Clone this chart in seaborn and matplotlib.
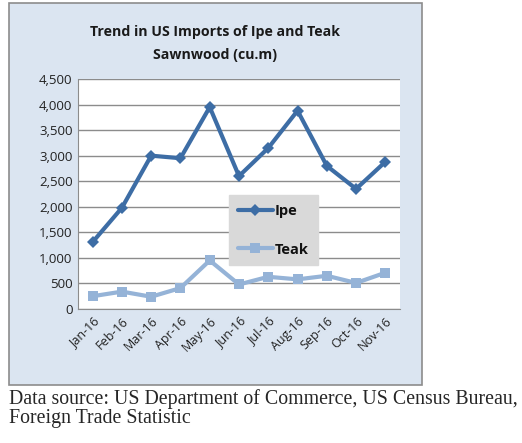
import pandas as pd
import matplotlib.pyplot as plt
import seaborn as sns
from matplotlib.patches import Rectangle

# donnees
months = ["Jan-16", "Feb-16", "Mar-16", "Apr-16", "May-16", "Jun-16",
          "Jul-16", "Aug-16", "Sep-16", "Oct-16", "Nov-16"]
ipe = [1310, 1980, 3000, 2950, 3950, 2600, 3150, 3880, 2800, 2350, 2880]
teak = [250, 340, 240, 410, 950, 480, 630, 580, 650, 510, 710]
yticks = [0, 500, 1000, 1500, 2000, 2500, 3000, 3500, 4000, 4500]

df = pd.DataFrame({"month": months * 2,
                   "value": ipe + teak,
                   "series": ["Ipe"] * len(ipe) + ["Teak"] * len(teak)})

sns.set_style("white")
plt.rcParams["font.family"] = ["Open Sans", "DejaVu Sans"]

fig = plt.figure(figsize=(5.22, 4.43), dpi=100)
fig.patch.set_facecolor("white")

# cadre du graphique (fond bleu clair)
fig.patches.append(Rectangle((9 / 522, 1 - 385 / 443), 413 / 522, 382 / 443,
                             transform=fig.transFigure, facecolor="#dbe5f1",
                             edgecolor="#8c8c8c", linewidth=1.2, zorder=-5))

ax = fig.add_axes([78 / 522, 1 - 309 / 443, 322 / 522, 230 / 443])
ax.set_zorder(2)
ax.set_facecolor("white")

colors = {"Ipe": "#3d6da5", "Teak": "#95b3d7"}
markers = {"Ipe": "D", "Teak": "s"}
sns.lineplot(data=df, x="month", y="value", hue="series", style="series",
             palette=colors, markers=markers, dashes=False, linewidth=3,
             markersize=6.5, markeredgewidth=0, ax=ax, sort=False)

ax.set_ylim(0, 4500)
ax.set_xlim(-0.5, len(months) - 0.5)
ax.set_yticks(yticks)
ax.set_yticklabels([f"{v:,}" for v in yticks], fontsize=9.5, color="#222222")
ax.set_xticks(range(len(months)))
ax.set_xticklabels(months, rotation=45, ha="right", rotation_mode="anchor",
                   fontsize=9, color="#222222")
ax.tick_params(axis="both", length=0, pad=4)
ax.grid(axis="y", color="#8c8c8c", linewidth=1)
ax.set_axisbelow(True)
ax.set_xlabel("")
ax.set_ylabel("")
for side in ["top", "right"]:
    ax.spines[side].set_visible(False)
ax.spines["left"].set_color("#8c8c8c")
ax.spines["bottom"].set_color("#8c8c8c")

# legende grise au milieu du graphique
leg = ax.legend(loc="upper left", bbox_to_anchor=((229 - 78) / 322, (309 - 195) / 230),
                borderaxespad=0, frameon=True, fancybox=False,
                facecolor="#d9d9d9", edgecolor="#d9d9d9", framealpha=1,
                handlelength=2.4, handletextpad=0.15, labelspacing=1.7,
                borderpad=0.6, prop={"weight": "bold", "size": 10.5})
for t in leg.get_texts():
    t.set_color("#111111")

fig.text(215 / 522, 1 - 32 / 443, "Trend in US Imports of Ipe and Teak",
         ha="center", va="center", fontsize=10.2, fontweight="bold", color="#1a1a1a")
fig.text(215 / 522, 1 - 55 / 443, "Sawnwood (cu.m)",
         ha="center", va="center", fontsize=10.2, fontweight="bold", color="#1a1a1a")

fig.text(9 / 522, 1 - 399 / 443,
         "Data source: US Department of Commerce, US Census Bureau,",
         ha="left", va="center", fontsize=14.3, family=["Liberation Serif"])
fig.text(9 / 522, 1 - 419 / 443, "Foreign Trade Statistic",
         ha="left", va="center", fontsize=14.3, family=["Liberation Serif"])

fig.savefig("out.png", dpi=100)
